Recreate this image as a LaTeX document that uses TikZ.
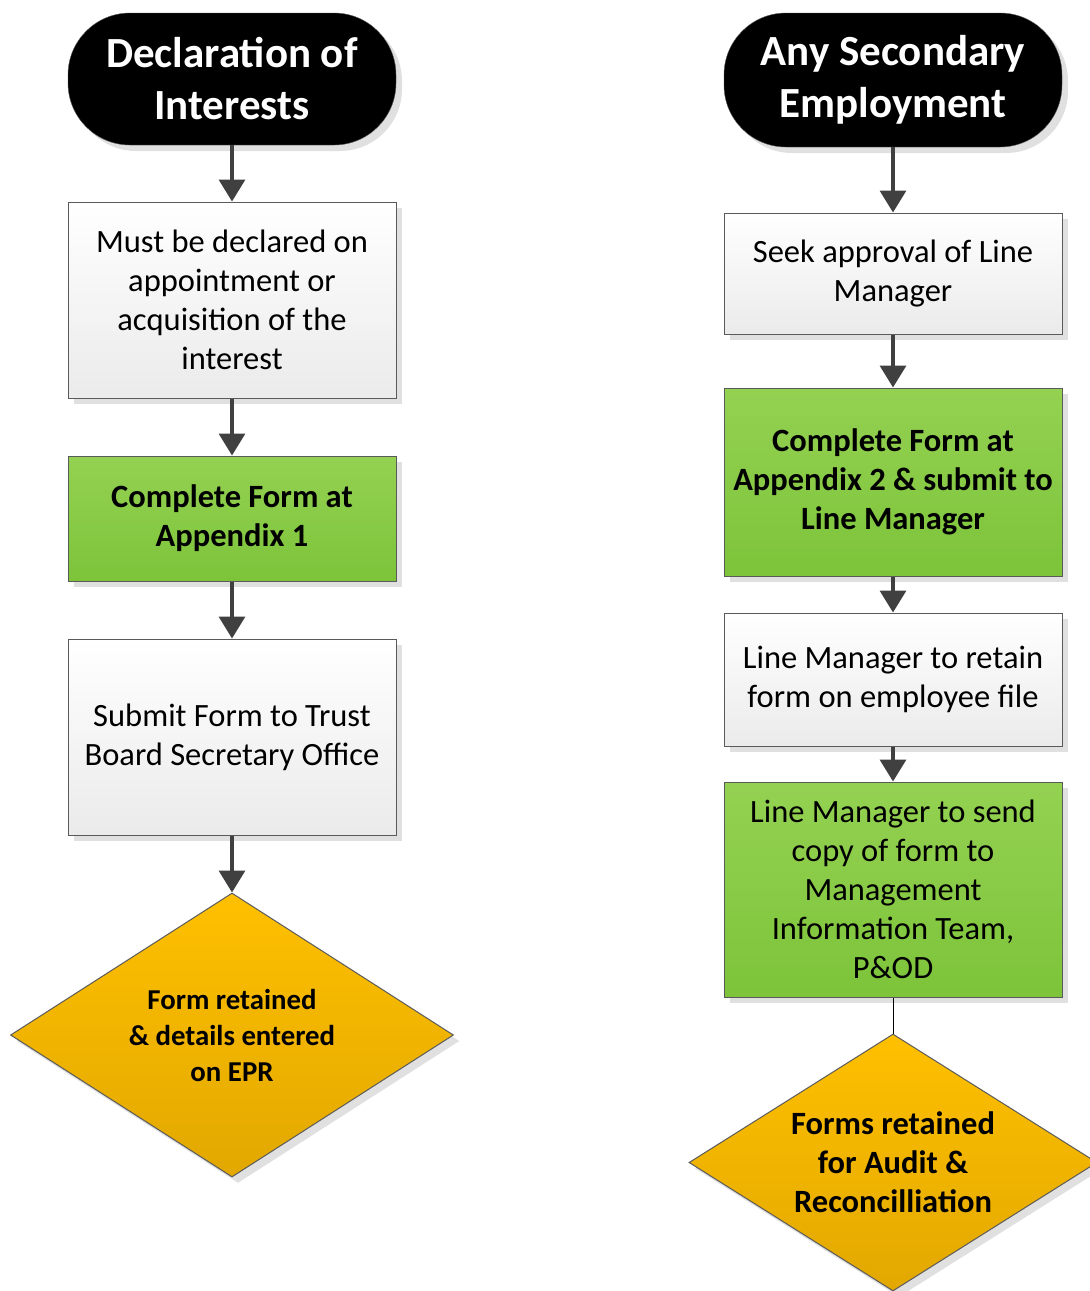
\documentclass[tikz,border=0pt]{standalone}
\usepackage{fontspec}
\setmainfont{Carlito}
\usetikzlibrary{positioning}
\usetikzlibrary{arrows.meta}
\usetikzlibrary{shapes.geometric,shadows}

\definecolor{edgegrey}{HTML}{5A5A5A}
\definecolor{arrowgrey}{HTML}{404040}
\definecolor{greentop}{HTML}{94D152}
\definecolor{greenbot}{HTML}{7DC43A}
\definecolor{ambertop}{HTML}{FFC000}
\definecolor{amberbot}{HTML}{E2A800}

\tikzset{
  shade/.style={drop shadow={shadow xshift=6pt,shadow yshift=-6pt,fill=black!12,opacity=1}},
  terminal/.style={rectangle,rounded corners=62pt,fill=black,draw=edgegrey,shade,
    text=white,align=center,font=\bfseries\fontsize{43}{52}\selectfont},
  plainbox/.style={rectangle,draw=edgegrey,line width=1pt,top color=white,bottom color=black!8,
    shade,align=center,font=\fontsize{32.5}{39}\selectfont},
  greenbox/.style={rectangle,draw=edgegrey,line width=1pt,top color=greentop,bottom color=greenbot,
    shade,align=center,font=\fontsize{32.5}{39}\selectfont},
  decision/.style={diamond,draw=edgegrey,line width=1pt,top color=ambertop,bottom color=amberbot,
    shade,inner sep=0pt},
  dtext/.style={align=center,font=\bfseries\fontsize{28.8}{36}\selectfont},
  flow/.style={draw=arrowgrey,line width=3.5pt,-{Triangle[width=26pt,length=22pt]}},
}

\begin{document}
\begin{tikzpicture}[x=1pt,y=-1pt]
\useasboundingbox (0,0) rectangle (1090,1291);

% left column
\node[terminal,minimum width=328pt,minimum height=132pt] (decl) at (232,79) {Declaration of\\Interests};
\node[plainbox,minimum width=328pt,minimum height=196pt] (declare) at (232,300) {Must be declared on\\appointment or\\acquisition of the\\interest};
\node[greenbox,minimum width=328pt,minimum height=125pt,font=\bfseries\fontsize{32.5}{39}\selectfont] (app1) at (232,518.5) {Complete Form at\\Appendix 1};
\node[plainbox,minimum width=328pt,minimum height=196pt] (submit) at (232,737) {Submit Form to Trust\\Board Secretary Office};
\node[decision,minimum width=443pt,minimum height=284pt] (epr) at (232,1035) {};
\node[dtext] (eprtext) at (epr.center) {Form retained\\\& details entered\\on EPR};

\draw[flow] (decl) -- (declare);
\draw[flow] (declare) -- (app1);
\draw[flow] (app1) -- (submit);
\draw[flow] (submit) -- (epr);

% right column
\node[terminal,minimum width=338pt,minimum height=134pt] (second) at (893,80) {Any Secondary\\Employment};
\node[plainbox,minimum width=338pt,minimum height=121pt] (approve) at (893,273.5) {Seek approval of Line\\Manager};
\node[greenbox,minimum width=338pt,minimum height=188pt,font=\bfseries\fontsize{32.5}{39}\selectfont] (app2) at (893,482) {Complete Form at\\Appendix 2 \& submit to\\Line Manager};
\node[plainbox,minimum width=338pt,minimum height=133pt] (retain) at (893,679.5) {Line Manager to retain\\form on employee file};
\node[greenbox,minimum width=338pt,minimum height=215pt] (send) at (893,889.5) {Line Manager to send\\copy of form to\\Management\\Information Team,\\P\&OD};
\node[decision,minimum width=408pt,minimum height=257pt] (audit) at (893,1162.5) {};
\node[dtext,font=\bfseries\fontsize{32.5}{39}\selectfont] (audittext) at (audit.center) {Forms retained\\for Audit \&\\Reconcilliation};

\draw[flow] (second) -- (approve);
\draw[flow] (approve) -- (app2);
\draw[flow] (app2) -- (retain);
\draw[flow] (retain) -- (send);
\draw[black,line width=1pt] (send) -- (audit);
\end{tikzpicture}
\end{document}
